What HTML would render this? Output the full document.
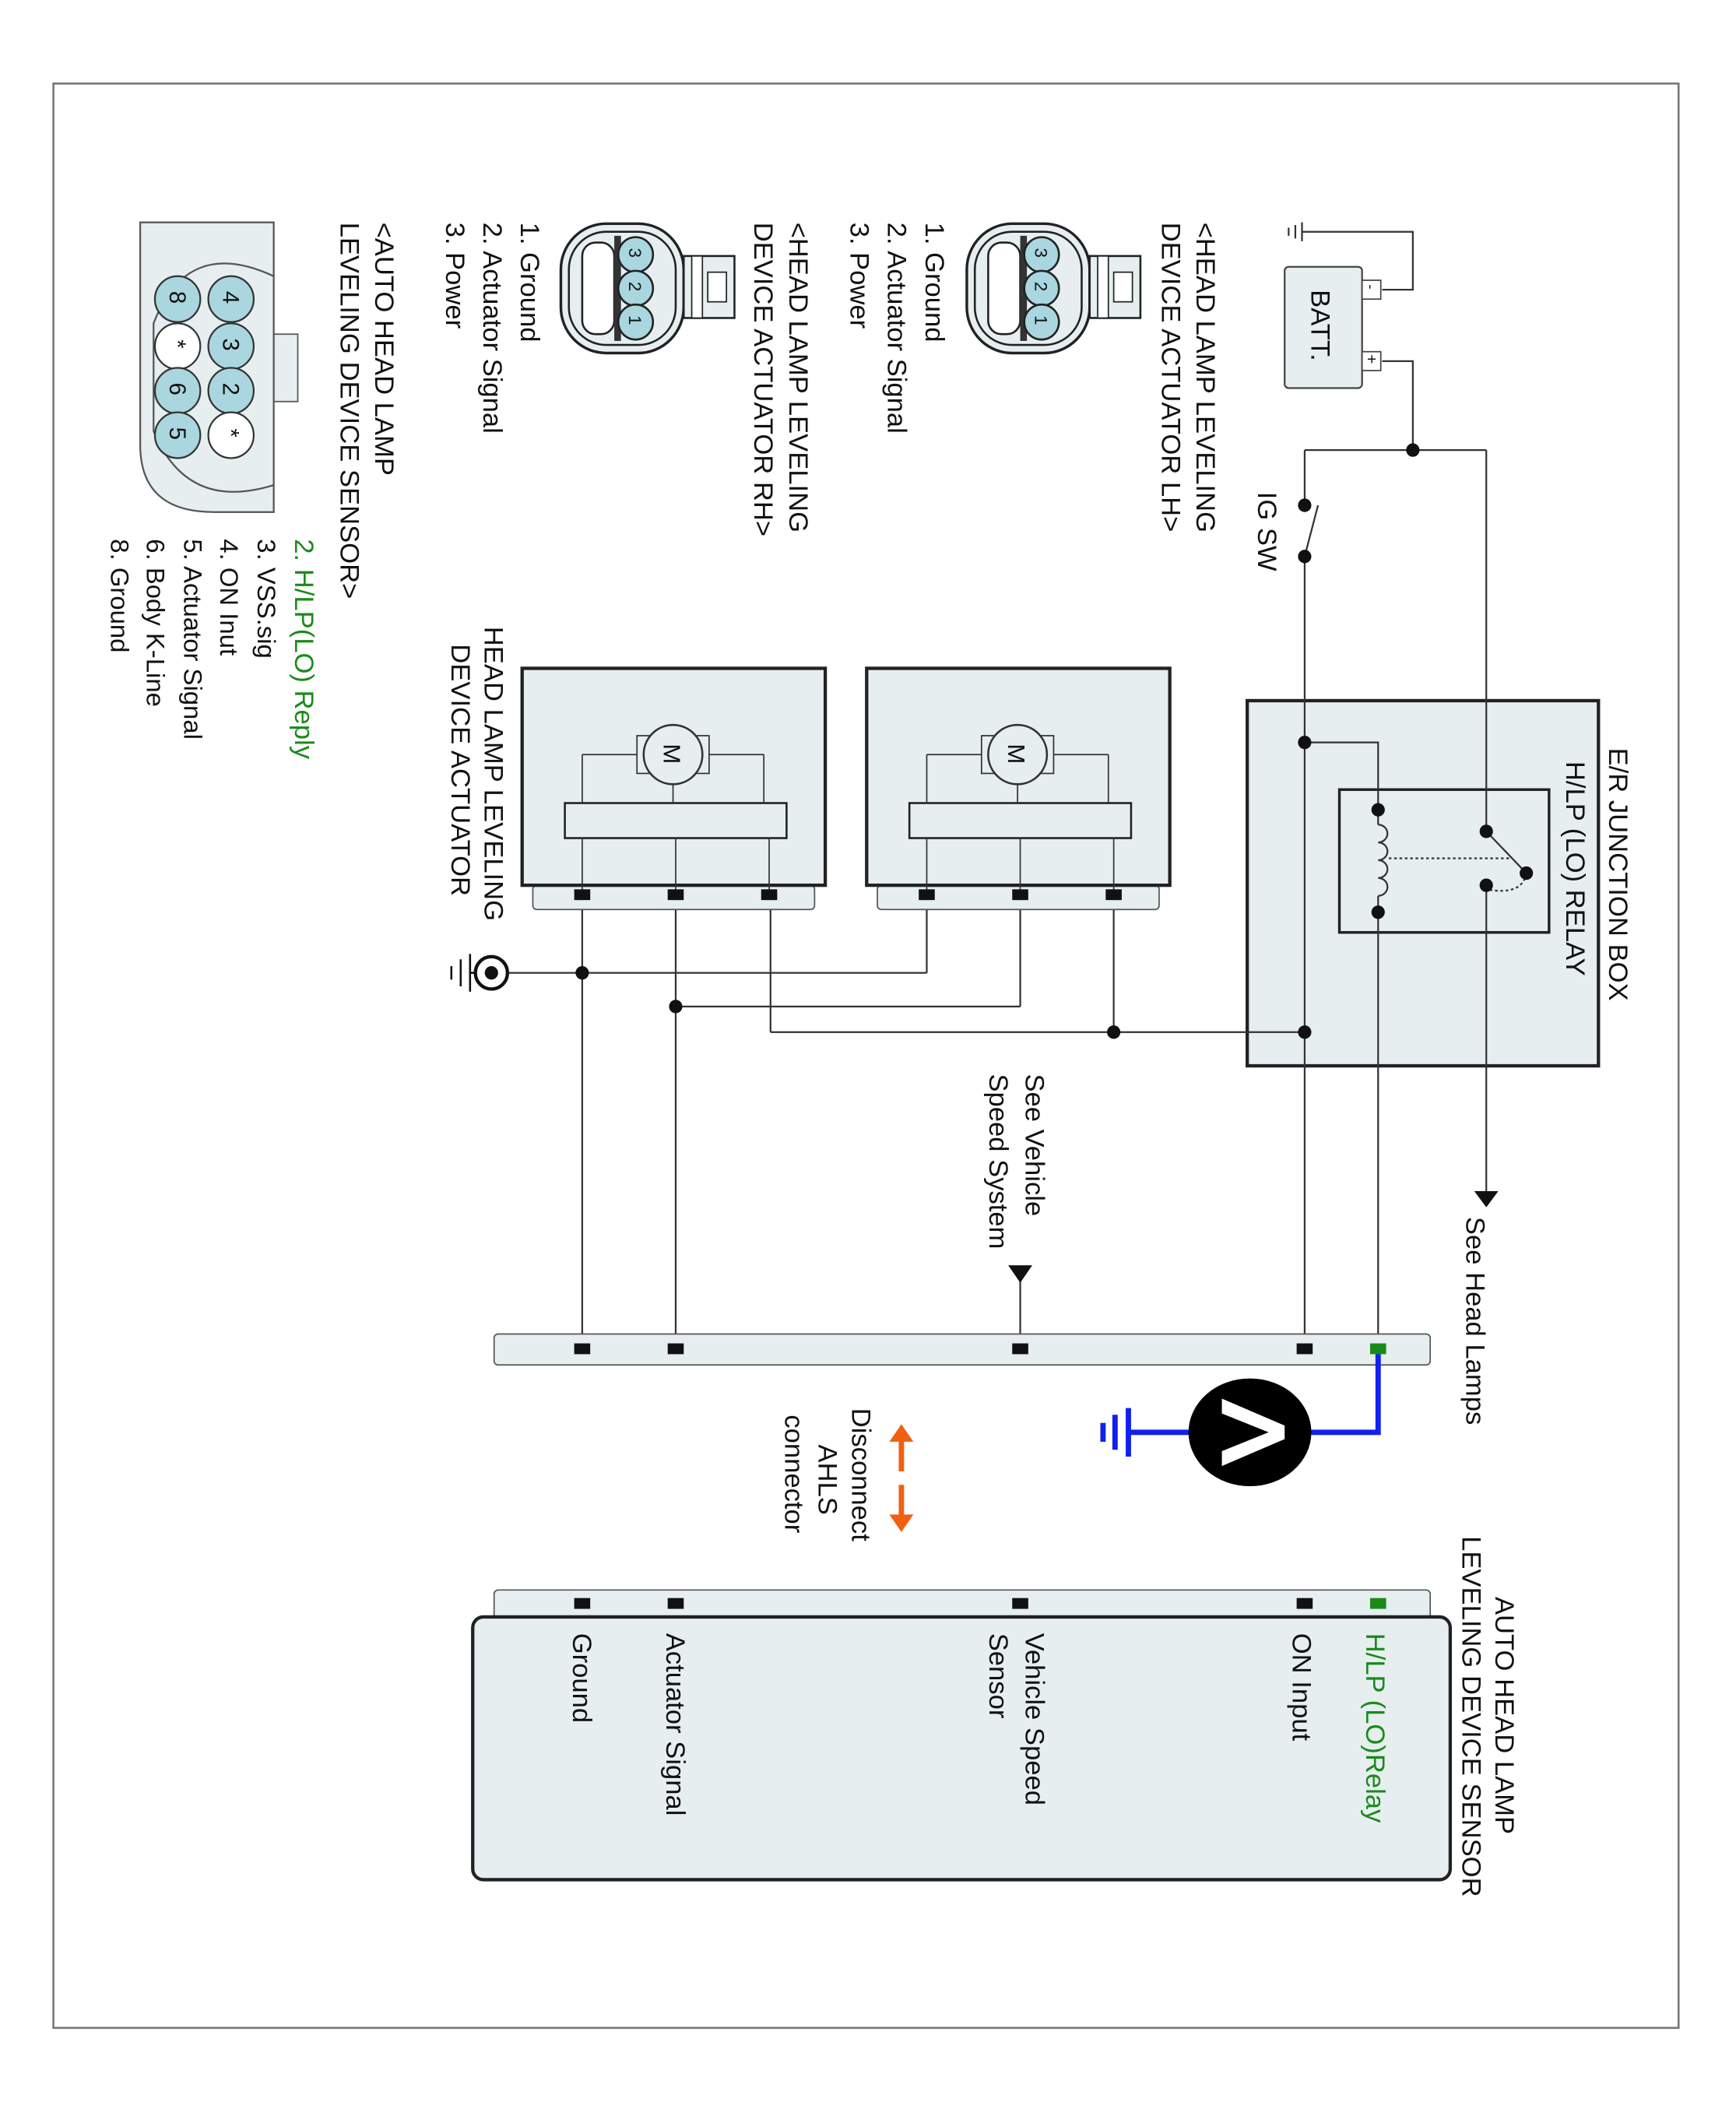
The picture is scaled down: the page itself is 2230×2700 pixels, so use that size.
<!DOCTYPE html>
<html><head><meta charset="utf-8"><style>
html,body{margin:0;padding:0;background:#fff}
svg{display:block}
text{font-family:"Liberation Sans",sans-serif;font-size:19px;fill:#111}
</style></head><body>
<svg width="2230" height="2700" viewBox="0 0 1300 1560" preserveAspectRatio="none" xmlns="http://www.w3.org/2000/svg">
<defs>
<g id="conn3">
  <rect x="0" y="0" width="92" height="96" rx="34" fill="#e6eef0" stroke="#222" stroke-width="2"/>
  <rect x="6" y="6" width="80" height="84" rx="28" fill="#e6eef0" stroke="#222" stroke-width="1.5"/>
  <rect x="16" y="14" width="24" height="68" rx="10" fill="#fff" stroke="#222" stroke-width="1.5"/>
  <rect x="40" y="9" width="5" height="78" fill="#333"/>
  <circle cx="56" cy="23" r="13" fill="#a9d6df" stroke="#222" stroke-width="1.5"/>
  <circle cx="56" cy="48" r="13" fill="#a9d6df" stroke="#222" stroke-width="1.5"/>
  <circle cx="56" cy="73" r="13" fill="#a9d6df" stroke="#222" stroke-width="1.5"/>
  <rect x="92" y="24" width="38" height="46" fill="#e6eef0" stroke="#222" stroke-width="1.5"/>
  <rect x="98" y="24" width="8" height="46" fill="#fff" stroke="#222" stroke-width="1"/>
  <rect x="110" y="36" width="14" height="22" fill="#fff" stroke="#222" stroke-width="1"/>
  <text transform="translate(51,18) rotate(90)" style="font-size:13px">3</text>
  <text transform="translate(51,43) rotate(90)" style="font-size:13px">2</text>
  <text transform="translate(51,68) rotate(90)" style="font-size:13px">1</text>
</g>
<g id="act">
  <rect x="0" y="161" width="211" height="18" rx="3" fill="#e6eef0" stroke="#555" stroke-width="1"/>
  <rect x="-8" y="0" width="227" height="161" fill="#e6eef0" stroke="#222" stroke-width="2.5"/>
  <rect x="24" y="100" width="166" height="26" fill="#e6eef0" stroke="#222" stroke-width="1.5"/>
  <line x1="37" y1="64" x2="37" y2="100" stroke="#333"/>
  <line x1="37" y1="64" x2="80" y2="64" stroke="#333"/>
  <line x1="173" y1="64" x2="173" y2="100" stroke="#333"/>
  <line x1="173" y1="64" x2="130" y2="64" stroke="#333"/>
  <rect x="78" y="50" width="54" height="28" fill="#e6eef0" stroke="#333"/>
  <circle cx="105" cy="64" r="22" fill="#e6eef0" stroke="#333" stroke-width="1.5"/>
  <text transform="translate(98,56) rotate(90)" style="font-size:18px">M</text>
  <line x1="105" y1="86" x2="105" y2="100" stroke="#333"/>
  <line x1="37" y1="126" x2="37" y2="168" stroke="#333"/>
  <line x1="107" y1="126" x2="107" y2="168" stroke="#333"/>
  <line x1="177" y1="126" x2="177" y2="168" stroke="#333"/>
  <rect x="31" y="164" width="12" height="8" fill="#111"/>
  <rect x="101" y="164" width="12" height="8" fill="#111"/>
  <rect x="171" y="164" width="12" height="8" fill="#111"/>
</g>
</defs>

<rect x="40" y="62" width="1217" height="1443" fill="none" stroke="#777" stroke-width="1.5"/>

<!-- junction box (drawn first) -->
<rect x="934" y="520" width="263" height="271" fill="#e6eef0" stroke="#222" stroke-width="2.5"/>
<rect x="1003" y="586" width="157" height="106" fill="#e6eef0" stroke="#222" stroke-width="2"/>

<!-- wires -->
<g stroke="#333" stroke-width="1.3" fill="none">
  <polyline points="1035,215 1058,215 1058,172 975,172"/>
  <line x1="975" y1="165" x2="975" y2="179"/><line x1="970" y1="167" x2="970" y2="177"/><line x1="965" y1="169" x2="965" y2="175"/>
  <polyline points="1035,268 1058,268 1058,334"/>
  <line x1="977" y1="334" x2="1113" y2="334"/>
  <line x1="977" y1="334" x2="977" y2="375"/>
  <line x1="977" y1="413" x2="987" y2="375"/>
  <line x1="977" y1="413" x2="977" y2="1000"/>
  <line x1="1113" y1="334" x2="1113" y2="617"/>
  <line x1="1113" y1="657" x2="1113" y2="885"/>
  <polyline points="977,551 1032,551 1032,612"/>
  <path d="M1032,612 a7,6.6 0 0 1 0,13.2 a7,6.6 0 0 1 0,13.2 a7,6.6 0 0 1 0,13.2 a7,6.6 0 0 1 0,13.2"/>
  <line x1="1032" y1="665" x2="1032" y2="1000"/>
  <line x1="1040" y1="637" x2="1130" y2="637" stroke-dasharray="2,2"/>
  <path d="M1143,648 Q1140,665 1113,660" stroke-dasharray="2,2"/>
  <line x1="1113" y1="617" x2="1143" y2="648"/>
  <line x1="977" y1="766" x2="577" y2="766"/>
  <line x1="834" y1="766" x2="834" y2="664"/>
  <line x1="764" y1="747" x2="764" y2="664"/>
  <line x1="694" y1="722" x2="694" y2="664"/>
  <line x1="764" y1="747" x2="506" y2="747"/>
  <line x1="694" y1="722" x2="380" y2="722"/>
  <line x1="577" y1="766" x2="577" y2="664"/>
  <line x1="506" y1="664" x2="506" y2="1000"/>
  <line x1="436" y1="664" x2="436" y2="1000"/>
  <line x1="764" y1="950" x2="764" y2="1000"/>
</g>
<rect x="962" y="198" width="58" height="90" rx="3" fill="#e6eef0" stroke="#444" stroke-width="1.3"/>
<text transform="translate(982,215) rotate(90)" style="font-size:20px">BATT.</text>
<rect x="1020" y="208" width="14" height="14" fill="#fff" stroke="#444"/>
<rect x="1020" y="261" width="14" height="14" fill="#fff" stroke="#444"/>
<text transform="translate(1023,211) rotate(90)" style="font-size:11px">-</text>
<text transform="translate(1023,263) rotate(90)" style="font-size:12px">+</text>
<circle cx="1058" cy="334" r="5" fill="#111"/>
<circle cx="977" cy="375" r="5" fill="#111"/>
<circle cx="977" cy="413" r="5" fill="#111"/>
<text transform="translate(942,365) rotate(90)" style="font-size:20px">IG SW</text>

<circle cx="1032" cy="601" r="5" fill="#111"/><circle cx="1032" cy="677" r="5" fill="#111"/>
<circle cx="1113" cy="617" r="5" fill="#111"/><circle cx="1113" cy="657" r="5" fill="#111"/>
<circle cx="1143" cy="648" r="5" fill="#111"/>
<circle cx="977" cy="551" r="5" fill="#111"/><circle cx="977" cy="766" r="5" fill="#111"/>
<circle cx="834" cy="766" r="5" fill="#111"/><circle cx="506" cy="747" r="5" fill="#111"/>
<circle cx="436" cy="722" r="5" fill="#111"/>
<text transform="translate(1205,555) rotate(90)" style="font-size:20px">E/R JUNCTION BOX</text>
<text transform="translate(1173,565) rotate(90)" style="font-size:20px">H/LP (LO) RELAY</text>

<polygon points="1104,884 1122,884 1113,896" fill="#111"/>
<text transform="translate(1098,903) rotate(90)" style="font-size:20px">See Head Lamps</text>

<use href="#act" x="657" y="496"/>
<use href="#act" x="399" y="496"/>
<text transform="translate(363,465) rotate(90)" style="font-size:20px">HEAD LAMP LEVELING</text>
<text transform="translate(338,478) rotate(90)" style="font-size:20px">DEVICE ACTUATOR</text>

<circle cx="368" cy="722" r="12" fill="#fff" stroke="#111" stroke-width="2.5"/>
<circle cx="368" cy="722" r="5" fill="#111"/>
<g stroke="#111" stroke-width="1.5">
  <line x1="352" y1="708" x2="352" y2="736"/><line x1="345" y1="712" x2="345" y2="732"/><line x1="338" y1="717" x2="338" y2="727"/>
  <line x1="352" y1="722" x2="356" y2="722"/>
</g>

<text transform="translate(768,797) rotate(90)" style="font-size:20px">See Vehicle</text>
<text transform="translate(741,797) rotate(90)" style="font-size:20px">Speed System</text>
<polygon points="755,939 773,939 764,952" fill="#111"/>

<rect x="370" y="990" width="701" height="23" rx="3" fill="#e6eef0" stroke="#555"/>
<rect x="430" y="997" width="12" height="8" fill="#111"/>
<rect x="500" y="997" width="12" height="8" fill="#111"/>
<rect x="758" y="997" width="12" height="8" fill="#111"/>
<rect x="971" y="997" width="12" height="8" fill="#111"/>
<rect x="1026" y="997" width="12" height="8" fill="#1a8a1a"/>

<g stroke="#1020ee" stroke-width="4" fill="none">
  <polyline points="1032,1005 1032,1063 975,1063"/>
  <line x1="895" y1="1063" x2="845" y2="1063"/>
  <line x1="845" y1="1045" x2="845" y2="1081"/>
  <line x1="835" y1="1050" x2="835" y2="1076"/>
  <line x1="826" y1="1056" x2="826" y2="1070"/>
</g>
<ellipse cx="936" cy="1063" rx="46" ry="40" fill="#000"/>
<polygon points="915,1038 962,1058 962,1068 915,1088 915,1077 950,1063 915,1049" fill="#fff"/>

<g stroke="#f06010" stroke-width="4">
  <line x1="675" y1="1068" x2="675" y2="1092"/>
  <line x1="675" y1="1102" x2="675" y2="1126"/>
</g>
<polygon points="666,1070 684,1070 675,1057" fill="#f06010"/>
<polygon points="666,1124 684,1124 675,1137" fill="#f06010"/>
<text transform="translate(638,1045) rotate(90)" style="font-size:20px">Disconnect</text>
<text transform="translate(613,1072) rotate(90)" style="font-size:20px">AHLS</text>
<text transform="translate(588,1050) rotate(90)" style="font-size:20px">connector</text>

<rect x="370" y="1180" width="701" height="26" rx="3" fill="#e6eef0" stroke="#555"/>
<rect x="430" y="1186" width="12" height="8" fill="#111"/>
<rect x="500" y="1186" width="12" height="8" fill="#111"/>
<rect x="758" y="1186" width="12" height="8" fill="#111"/>
<rect x="971" y="1186" width="12" height="8" fill="#111"/>
<rect x="1026" y="1186" width="12" height="8" fill="#1a8a1a"/>
<rect x="354" y="1200" width="732" height="195" rx="8" fill="#e6eef0" stroke="#222" stroke-width="2.5"/>
<text transform="translate(1023,1212) rotate(90)" style="font-size:20px;fill:#1a8a1a">H/LP (LO)Relay</text>
<text transform="translate(968,1212) rotate(90)" style="font-size:20px">ON Input</text>
<text transform="translate(768,1212) rotate(90)" style="font-size:20px">Vehicle Speed</text>
<text transform="translate(741,1212) rotate(90)" style="font-size:20px">Sensor</text>
<text transform="translate(499,1212) rotate(90)" style="font-size:20px">Actuator Signal</text>
<text transform="translate(429,1212) rotate(90)" style="font-size:20px">Ground</text>
<text transform="translate(1120,1185) rotate(90)" style="font-size:20px">AUTO HEAD LAMP</text>
<text transform="translate(1095,1140) rotate(90)" style="font-size:20px">LEVELING DEVICE SENSOR</text>

<text transform="translate(896,165) rotate(90)" style="font-size:20px">&lt;HEAD LAMP LEVELING</text>
<text transform="translate(870,165) rotate(90)" style="font-size:20px">DEVICE ACTUATOR LH&gt;</text>
<use href="#conn3" x="724" y="166"/>
<text transform="translate(693,165) rotate(90)" style="font-size:20px">1. Ground</text>
<text transform="translate(665,165) rotate(90)" style="font-size:20px">2. Actuator Signal</text>
<text transform="translate(637,165) rotate(90)" style="font-size:20px">3. Power</text>

<text transform="translate(591,165) rotate(90)" style="font-size:20px">&lt;HEAD LAMP LEVELING</text>
<text transform="translate(565,165) rotate(90)" style="font-size:20px">DEVICE ACTUATOR RH&gt;</text>
<use href="#conn3" x="420" y="166"/>
<text transform="translate(390,165) rotate(90)" style="font-size:20px">1. Ground</text>
<text transform="translate(362,165) rotate(90)" style="font-size:20px">2. Actuator Signal</text>
<text transform="translate(334,165) rotate(90)" style="font-size:20px">3. Power</text>

<rect x="205" y="248" width="18" height="50" fill="#e6eef0" stroke="#555"/>
<path d="M105,165 L205,165 L205,380 L160,380 Q105,380 105,330 Z" fill="#e6eef0" stroke="#555" stroke-width="1.3"/>
<path d="M205,205 Q140,175 115,240 L115,320 Q140,380 205,360" fill="none" stroke="#555" stroke-width="1.3"/>
<g stroke="#333" stroke-width="1.3">
  <circle cx="173" cy="222" r="17" fill="#a9d6df"/><circle cx="173" cy="257" r="17" fill="#a9d6df"/>
  <circle cx="173" cy="290" r="17" fill="#a9d6df"/><circle cx="173" cy="323" r="17" fill="#fff"/>
  <circle cx="133" cy="222" r="17" fill="#a9d6df"/><circle cx="133" cy="257" r="17" fill="#fff"/>
  <circle cx="133" cy="290" r="17" fill="#a9d6df"/><circle cx="133" cy="323" r="17" fill="#a9d6df"/>
</g>
<text transform="translate(167,216) rotate(90)" style="font-size:17px">4</text>
<text transform="translate(167,251) rotate(90)" style="font-size:17px">3</text>
<text transform="translate(167,284) rotate(90)" style="font-size:17px">2</text>
<text transform="translate(167,318) rotate(90)" style="font-size:17px">*</text>
<text transform="translate(127,216) rotate(90)" style="font-size:17px">8</text>
<text transform="translate(127,252) rotate(90)" style="font-size:17px">*</text>
<text transform="translate(127,284) rotate(90)" style="font-size:17px">6</text>
<text transform="translate(127,317) rotate(90)" style="font-size:17px">5</text>
<text transform="translate(281,165) rotate(90)" style="font-size:20px">&lt;AUTO HEAD LAMP</text>
<text transform="translate(255,165) rotate(90)" style="font-size:20px">LEVELING DEVICE SENSOR&gt;</text>
<text transform="translate(221,400) rotate(90)" style="font-size:20px;fill:#1a8a1a">2. H/LP(LO) Reply</text>
<text transform="translate(193,400) rotate(90)" style="font-size:19px">3. VSS.sig</text>
<text transform="translate(165,400) rotate(90)" style="font-size:19px">4. ON Inut</text>
<text transform="translate(138,400) rotate(90)" style="font-size:19px">5. Actuator Signal</text>
<text transform="translate(110,400) rotate(90)" style="font-size:19px">6. Body K-Line</text>
<text transform="translate(83,400) rotate(90)" style="font-size:19px">8. Ground</text>
</svg>
</body></html>
